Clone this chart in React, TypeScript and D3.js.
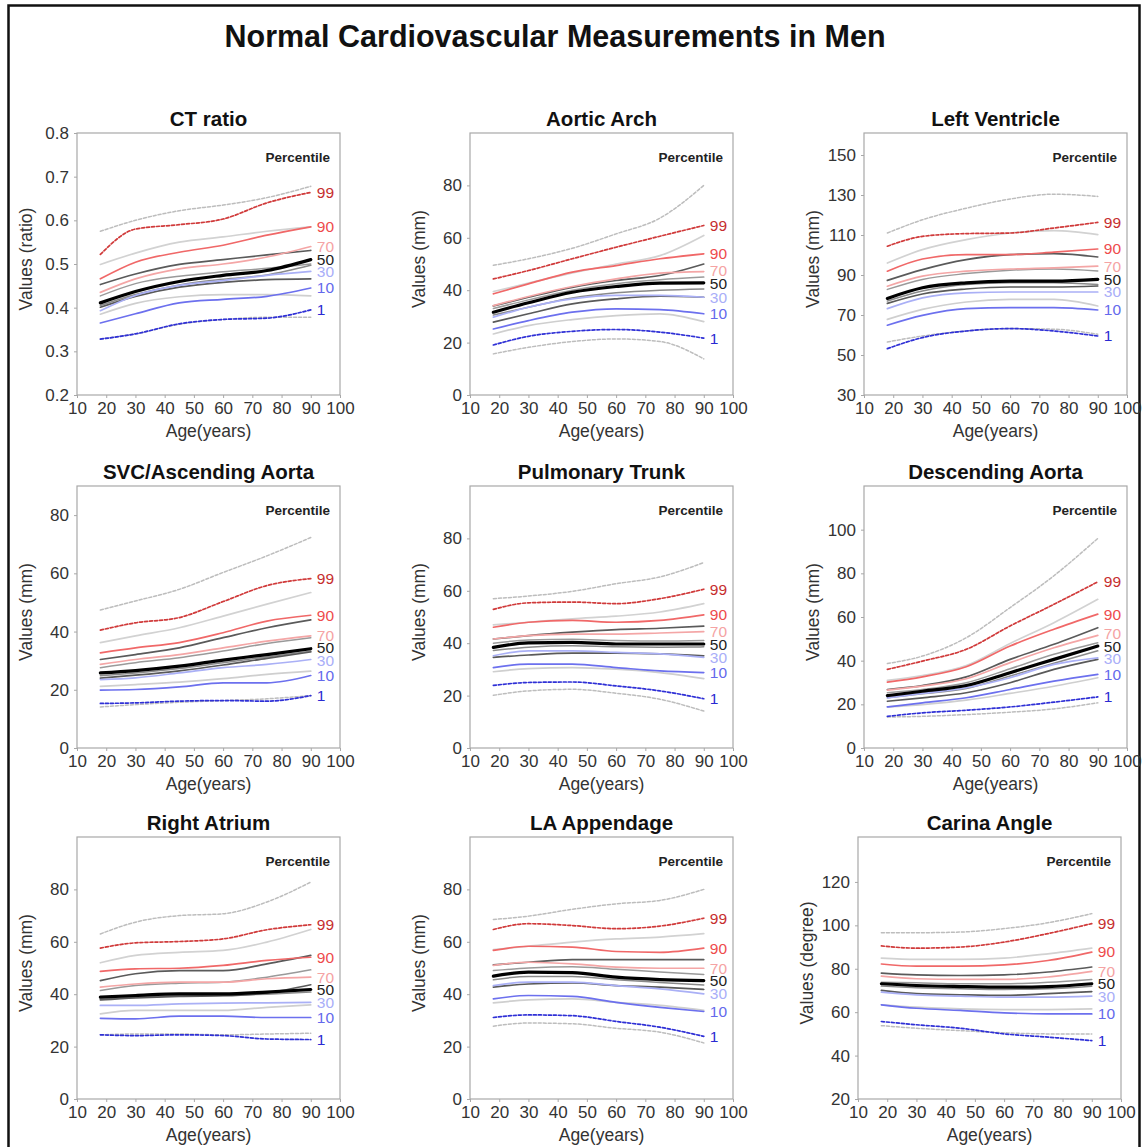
import React, { useEffect, useRef } from 'react';
import * as d3 from 'd3';

const AGES = [18, 30, 45, 60, 75, 90];
const X_TICKS = [10, 20, 30, 40, 50, 60, 70, 80, 90, 100];

// series order (top to bottom in the plots)
const SERIES = ['upper', 'p99', 'p95', 'p90', 'p80', 'p70', 'p60', 'p50', 'p40', 'p30', 'p20', 'p5', 'p10', 'p1', 'lower'];
const LABELED = ['p99', 'p90', 'p70', 'p50', 'p30', 'p10', 'p1'];
const LABEL_TEXT = ['99', '90', '70', '50', '30', '10', '1'];

const TITLES = ['CT ratio', 'Aortic Arch', 'Left Ventricle', 'SVC/Ascending Aorta', 'Pulmonary Trunk', 'Descending Aorta', 'Right Atrium', 'LA Appendage', 'Carina Angle'];
const Y_LABELS = ['Values (ratio)', 'Values (mm)', 'Values (mm)', 'Values (mm)', 'Values (mm)', 'Values (mm)', 'Values (mm)', 'Values (mm)', 'Values (degree)'];
const Y_DOMAINS = [[0.2, 0.8], [0, 100], [30, 161], [0, 90], [0, 100], [0, 120], [0, 100], [0, 100], [20, 140.7]];
const Y_TICKS = [
  [0.2, 0.3, 0.4, 0.5, 0.6, 0.7, 0.8],
  [0, 20, 40, 60, 80],
  [30, 50, 70, 90, 110, 130, 150],
  [0, 20, 40, 60, 80],
  [0, 20, 40, 60, 80],
  [0, 20, 40, 60, 80, 100],
  [0, 20, 40, 60, 80],
  [0, 20, 40, 60, 80],
  [20, 40, 60, 80, 100, 120],
];

const CT_RATIO = [
  [0.575, 0.600, 0.622, 0.635, 0.652, 0.678],
  [0.522, 0.580, 0.590, 0.603, 0.640, 0.664],
  [0.499, 0.525, 0.550, 0.562, 0.575, 0.585],
  [0.466, 0.504, 0.527, 0.543, 0.566, 0.585],
  [0.453, 0.477, 0.499, 0.510, 0.521, 0.531],
  [0.435, 0.466, 0.489, 0.500, 0.516, 0.540],
  [0.427, 0.455, 0.472, 0.482, 0.490, 0.500],
  [0.411, 0.437, 0.460, 0.474, 0.485, 0.510],
  [0.405, 0.430, 0.452, 0.465, 0.475, 0.497],
  [0.393, 0.428, 0.451, 0.462, 0.474, 0.483],
  [0.401, 0.426, 0.447, 0.458, 0.464, 0.466],
  [0.385, 0.410, 0.425, 0.430, 0.430, 0.427],
  [0.365, 0.386, 0.411, 0.419, 0.426, 0.445],
  [0.328, 0.340, 0.363, 0.373, 0.376, 0.395],
  [0.328, 0.340, 0.362, 0.373, 0.378, 0.378],
];

const AORTIC_ARCH = [
  [49.5, 52, 56, 61.5, 67.5, 80],
  [44.3, 47.5, 52, 56.4, 60.6, 64.7],
  [39.5, 42.7, 46.6, 50, 53.2, 60.9],
  [38.6, 42.4, 46.9, 49.4, 52, 53.9],
  [34, 37.3, 41.1, 43.7, 45.6, 50],
  [34.1, 37.6, 41.4, 44.3, 46.5, 47.1],
  [33, 36.3, 40, 42.5, 44, 45],
  [31.6, 35.2, 39.2, 41.4, 42.7, 42.8],
  [30.5, 33.5, 37, 39, 40, 40.5],
  [29.7, 33.5, 36.7, 38, 38, 37.3],
  [27.8, 31, 34.8, 36.7, 37.7, 37.3],
  [23.3, 26.5, 28.8, 30.3, 31, 28],
  [25.2, 28.4, 31.6, 32.9, 32.6, 31],
  [19.1, 22.4, 24.3, 25, 24, 21.7],
  [15.7, 18.2, 20.4, 21.4, 20.4, 13.8],
];

const LEFT_VENTRICLE = [
  [111, 117.6, 123.4, 128, 130.4, 129.3],
  [104.4, 109.3, 110.7, 111, 113.5, 116.3],
  [96, 102.7, 107.7, 111, 112.2, 110.2],
  [91.9, 98, 100.2, 100.2, 101.4, 103],
  [87.3, 92.7, 97.7, 100.2, 100.7, 99],
  [84.4, 89.4, 91.9, 93, 93.6, 94.4],
  [82.8, 87.8, 90.7, 92.4, 93, 92],
  [78.3, 83.6, 86.1, 86.9, 86.9, 87.8],
  [77, 82, 85.3, 86.1, 86.1, 85.3],
  [73.2, 78.6, 81.1, 81.5, 81.5, 81.5],
  [75.8, 80.5, 83, 84, 84, 84.5],
  [67.8, 72.8, 76.5, 77.8, 77.8, 74.5],
  [64.9, 69.8, 73.2, 73.7, 73.7, 72.5],
  [53.2, 58.7, 62, 63.2, 62, 59.5],
  [56.5, 59.5, 62, 63.2, 62.9, 60.4],
];

const SVC_ASC_AORTA = [
  [47.4, 50.5, 54.5, 60.3, 66, 72.3],
  [40.5, 43, 44.8, 50.3, 55.8, 58.2],
  [36.2, 38.5, 41.3, 45.3, 49.4, 53.4],
  [32.7, 34.4, 36.2, 39.6, 43.6, 45.6],
  [30.4, 32.1, 34.4, 37.9, 41.3, 44],
  [28.7, 30.4, 32.1, 34.4, 36.7, 38.5],
  [27.6, 29.3, 31, 33.3, 35.9, 37.9],
  [25.8, 26.6, 28.1, 30.2, 32.1, 34.1],
  [24.8, 25.8, 27.3, 29.3, 31.3, 33.3],
  [23.5, 24.1, 25.8, 27.6, 28.7, 30.4],
  [24, 25, 26.5, 28.5, 30.8, 33],
  [21.2, 21.8, 22.6, 23.8, 25.3, 26.4],
  [19.9, 20.1, 21, 22.4, 22.4, 24.9],
  [15.3, 15.5, 16.1, 16.3, 16.1, 18],
  [14.1, 14.9, 15.7, 16.3, 16.9, 18],
];

const PULMONARY_TRUNK = [
  [57, 58, 59.8, 62.7, 65.3, 70.8],
  [52.9, 55.4, 55.7, 55.1, 57, 60.6],
  [47, 48, 49.3, 50.3, 51.9, 55.1],
  [46.1, 48, 48.7, 48, 48.7, 50.8],
  [41.6, 42.9, 44.2, 45.2, 45.7, 46.5],
  [41.6, 42.9, 43.5, 43.5, 43.9, 44.4],
  [40, 41.2, 41.5, 41, 40.8, 41],
  [38.4, 40.1, 40.3, 39.7, 39.7, 39.7],
  [37.2, 38.5, 39, 38.6, 38.5, 38.6],
  [35.2, 37.1, 37.1, 36.5, 35.9, 34.6],
  [34.6, 35.5, 36.2, 36.2, 35.9, 35.2],
  [29.1, 30.3, 30.7, 30.1, 28.8, 26.5],
  [30.7, 32, 32, 30.7, 29.4, 28.8],
  [23.9, 25, 25.2, 23.7, 21.8, 18.8],
  [20.1, 21.8, 22.4, 20.9, 18.6, 14.1],
];

const DESCENDING_AORTA = [
  [38.7, 42.1, 50.5, 64.3, 78.9, 96],
  [36, 39.8, 45.2, 55.9, 65.8, 76.1],
  [31, 33.2, 37.8, 47.9, 57.4, 68.1],
  [30.2, 32.6, 37.2, 46.7, 54.4, 61.3],
  [26.8, 28.6, 32.6, 40.6, 47.5, 55.1],
  [26.5, 28.3, 31.7, 39.1, 45.9, 51.6],
  [25.3, 26.8, 29.9, 36.3, 42.9, 48.2],
  [24, 26, 28.6, 34.5, 40.6, 46.7],
  [23, 24.8, 27.3, 33, 38.8, 44.5],
  [23, 25, 27.6, 32.2, 38.3, 41.3],
  [21.4, 23, 25.3, 29.9, 36, 40.6],
  [18.8, 19.9, 21.9, 25, 28.3, 32.2],
  [18.8, 20.7, 23, 26.8, 30.6, 33.7],
  [14.5, 16.1, 17.3, 18.8, 21, 23.4],
  [14.2, 14.5, 15.3, 16.4, 17.9, 20.7],
];

const RIGHT_ATRIUM = [
  [63, 67.5, 70, 70.7, 75.2, 82.8],
  [57.6, 59.6, 60.1, 61.1, 64.6, 66.5],
  [52, 54.8, 56, 56.7, 59.9, 64.7],
  [48.7, 49.7, 49.9, 51, 52.9, 54.1],
  [45.2, 47.8, 49, 49, 51.6, 54.8],
  [42.7, 43.9, 44.6, 44.6, 45.9, 46.5],
  [41.4, 43.3, 44.2, 44.6, 46.5, 49.3],
  [38.9, 39.5, 40.1, 40.1, 40.8, 41.8],
  [38, 38.8, 39.3, 39.5, 40, 40.8],
  [35.7, 35.7, 36.3, 36.6, 36.7, 36.9],
  [37.8, 38.6, 39.2, 39.4, 40.5, 43.6],
  [32.5, 33.8, 33.8, 33.8, 35, 35.9],
  [30.8, 30.6, 31.6, 31.6, 31.1, 31.1],
  [24.5, 24.2, 24.5, 24.2, 22.9, 22.7],
  [24.5, 24.8, 24.8, 24.5, 24.8, 25.1],
];

const LA_APPENDAGE = [
  [68.5, 69.8, 72.4, 74.5, 75.8, 80],
  [64.7, 66.9, 66.2, 65, 66, 69],
  [57, 58.3, 59.9, 61.1, 61.8, 63.1],
  [56.7, 58.3, 58, 56.3, 56, 57.6],
  [51.2, 52.2, 53.2, 53.2, 53.2, 53.2],
  [51, 52.2, 51.6, 50.3, 49.9, 49.9],
  [49, 50, 50.5, 49.5, 48.5, 47.5],
  [46.9, 48.4, 48.2, 46.5, 45.6, 45.2],
  [45.5, 46.8, 46.8, 45.5, 44.5, 43.5],
  [43.3, 44.6, 44.6, 43.3, 42, 40.1],
  [42.7, 43.9, 44.3, 43.3, 42.7, 41.8],
  [36.7, 37.8, 38.2, 36.9, 35.7, 33.8],
  [38.2, 39.5, 39.2, 36.9, 35, 33.4],
  [31.1, 32.1, 31.8, 29.6, 27.4, 23.9],
  [27.8, 29, 28.7, 27, 25.5, 21.4],
];

const CARINA_ANGLE = [
  [96.6, 96.6, 96.9, 98.5, 101.2, 105.4],
  [90.5, 89.5, 90, 92.3, 96.2, 100.8],
  [84.9, 84.3, 84.3, 84.9, 86.9, 89.5],
  [82.2, 81.2, 81.2, 81.8, 83.8, 87.7],
  [78, 77.2, 76.9, 77.2, 78.5, 80.8],
  [76.6, 75.4, 75.1, 75.1, 76.2, 78.8],
  [73.8, 73.5, 73.1, 73.1, 73.8, 75.1],
  [73.1, 72.3, 71.8, 71.5, 71.8, 73.1],
  [72, 71.3, 70.8, 70.5, 70.8, 72],
  [69.2, 68, 67.4, 66.9, 66.9, 67.4],
  [70, 68.5, 68, 67.7, 68.5, 69.5],
  [63.4, 62.3, 61.5, 61.2, 61.2, 61.5],
  [63.4, 61.8, 60.8, 59.7, 59.2, 59.2],
  [55.7, 54.2, 52.6, 50, 48.5, 46.9],
  [53.8, 52.6, 51.5, 50.5, 50, 50],
];

const PANEL_DATA = [CT_RATIO, AORTIC_ARCH, LEFT_VENTRICLE, SVC_ASC_AORTA, PULMONARY_TRUNK, DESCENDING_AORTA, RIGHT_ATRIUM, LA_APPENDAGE, CARINA_ANGLE];

const STYLE = {
  upper: { color: '#bdbdbd', width: 1.5, dash: '3,2' },
  p99: { color: '#d03a3a', width: 1.7, dash: '3,2' },
  p95: { color: '#d2d2d2', width: 1.7, dash: null },
  p90: { color: '#f06868', width: 1.7, dash: null },
  p80: { color: '#5a5a5a', width: 1.7, dash: null },
  p70: { color: '#f4a6a6', width: 1.7, dash: null },
  p60: { color: '#9a9a9a', width: 1.5, dash: null },
  p50: { color: '#000000', width: 3.2, dash: null },
  p40: { color: '#8a8a8a', width: 1.5, dash: null },
  p30: { color: '#aab0f6', width: 1.7, dash: null },
  p20: { color: '#5a5a5a', width: 1.7, dash: null },
  p5: { color: '#cfcfcf', width: 1.7, dash: null },
  p10: { color: '#6c70ee', width: 1.7, dash: null },
  p1: { color: '#2f30d6', width: 1.7, dash: '3,2' },
  lower: { color: '#bdbdbd', width: 1.5, dash: '3,2' },
};
const LABEL_COLOR = {
  p99: '#c62e2e', p90: '#ee4b4b', p70: '#f5a3a3', p50: '#222222', p30: '#a9aef8', p10: '#6469ec', p1: '#2a2ad2',
};
// draw grays first, then colours, black median last
const DRAW_ORDER = ['upper', 'lower', 'p95', 'p5', 'p60', 'p40', 'p80', 'p20', 'p99', 'p90', 'p70', 'p30', 'p10', 'p1', 'p50'];

const width = 1144;
const height = 1147;
const FONT = "'Liberation Sans', Arial, sans-serif";
const COL_LEFT = [77, 470, 864];
const ROW_TOP = [133, 486, 837];
const PW = 263;
const PH = 262;
const LABEL_GAP = 12.5;

export default function App() {
  const ref = useRef(null);

  useEffect(() => {
    const svg = d3.select(ref.current);
    svg.selectAll('*').remove();

    svg.append('rect').attr('x', 0).attr('y', 0).attr('width', width).attr('height', height).attr('fill', '#fff');
    // outer figure border
    svg.append('rect')
      .attr('x', 8.5).attr('y', 5.5).attr('width', 1131).attr('height', 1170)
      .attr('fill', 'none').attr('stroke', '#111').attr('stroke-width', 2.5);

    svg.append('text')
      .attr('x', 555).attr('y', 47)
      .attr('text-anchor', 'middle')
      .attr('font-family', FONT).attr('font-weight', 'bold').attr('font-size', 30.5)
      .attr('fill', '#111')
      .text('Normal Cardiovascular Measurements in Men');

    PANEL_DATA.forEach((rows, pi) => {
      const col = pi % 3;
      const row = Math.floor(pi / 3);
      const left = pi === 8 ? 858 : COL_LEFT[col];
      const top = ROW_TOP[row];
      const g = svg.append('g').attr('transform', `translate(${left},${top})`);

      const x = d3.scaleLinear().domain([10, 100]).range([0, PW]);
      const y = d3.scaleLinear().domain(Y_DOMAINS[pi]).range([PH, 0]);
      const fmt = pi === 0 ? d3.format('.1f') : d3.format('d');

      // frame
      g.append('rect').attr('x', 0).attr('y', 0).attr('width', PW).attr('height', PH)
        .attr('fill', 'none').attr('stroke', '#a8a8a8').attr('stroke-width', 1.2);

      // x axis
      const xAxis = g.append('g').attr('transform', `translate(0,${PH})`)
        .call(d3.axisBottom(x).tickValues(X_TICKS).tickSize(3).tickPadding(4).tickFormat(d3.format('d')));
      xAxis.select('.domain').remove();
      xAxis.selectAll('.tick line').attr('stroke', '#a8a8a8');
      xAxis.selectAll('.tick text')
        .attr('font-family', FONT).attr('font-size', 17).attr('fill', '#333');

      // y axis
      const yAxis = g.append('g')
        .call(d3.axisLeft(y).tickValues(Y_TICKS[pi]).tickSize(3).tickPadding(5).tickFormat(fmt));
      yAxis.select('.domain').remove();
      yAxis.selectAll('.tick line').attr('stroke', '#a8a8a8');
      yAxis.selectAll('.tick text')
        .attr('font-family', FONT).attr('font-size', 17).attr('fill', '#333');

      g.append('text')
        .attr('x', PW / 2).attr('y', PH + 42)
        .attr('text-anchor', 'middle')
        .attr('font-family', FONT).attr('font-size', 17.5).attr('fill', '#333')
        .text('Age(years)');

      g.append('text')
        .attr('transform', `translate(-45,${PH / 2 - 5}) rotate(-90)`)
        .attr('text-anchor', 'middle')
        .attr('font-family', FONT).attr('font-size', 17.5).attr('fill', '#333')
        .text(Y_LABELS[pi]);

      g.append('text')
        .attr('x', PW / 2).attr('y', -7)
        .attr('text-anchor', 'middle')
        .attr('font-family', FONT).attr('font-weight', 'bold').attr('font-size', 20.5)
        .attr('fill', '#111')
        .text(TITLES[pi]);

      g.append('text')
        .attr('x', PW - 10).attr('y', 29)
        .attr('text-anchor', 'end')
        .attr('font-family', FONT).attr('font-weight', 'bold').attr('font-size', 13.5)
        .attr('fill', '#222')
        .text('Percentile');

      const line = d3.line()
        .x((d, i) => x(AGES[i]))
        .y((d) => y(d))
        .curve(d3.curveMonotoneX);

      DRAW_ORDER.forEach((key) => {
        const vals = rows[SERIES.indexOf(key)];
        const st = STYLE[key];
        g.append('path')
          .datum(vals)
          .attr('d', line)
          .attr('fill', 'none')
          .attr('stroke', st.color)
          .attr('stroke-width', st.width)
          .attr('stroke-dasharray', st.dash)
          .attr('stroke-linecap', 'round')
          .attr('stroke-linejoin', 'round');
      });

      // percentile labels at the line ends, nudged apart a little when crowded
      const ys = LABELED.map((key) => {
        const vals = rows[SERIES.indexOf(key)];
        return y(vals[vals.length - 1]);
      });
      for (let iter = 0; iter < 20; iter++) {
        for (let i = 1; i < ys.length; i++) {
          const gap = ys[i] - ys[i - 1];
          if (gap < LABEL_GAP) {
            const push = (LABEL_GAP - gap) / 2;
            ys[i - 1] -= push;
            ys[i] += push;
          }
        }
      }
      LABELED.forEach((key, li) => {
        g.append('text')
          .attr('x', x(90) + 6)
          .attr('y', ys[li])
          .attr('dy', '0.35em')
          .attr('font-family', FONT).attr('font-size', 15.5)
          .attr('fill', LABEL_COLOR[key])
          .text(LABEL_TEXT[li]);
      });
    });
  }, []);

  return (
    <svg
      ref={ref}
      width={width}
      height={height}
      style={{ position: 'absolute', left: 0, top: 0, display: 'block' }}
    />
  );
}
